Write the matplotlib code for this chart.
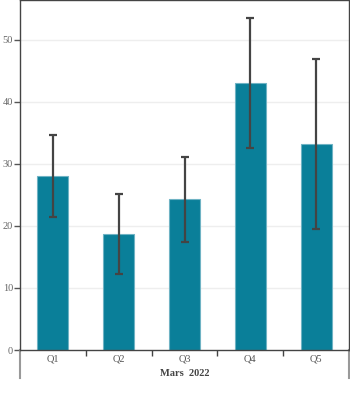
import numpy as np
import matplotlib
matplotlib.use("Agg")
import matplotlib.pyplot as plt
from matplotlib.lines import Line2D

categories = ["Q1", "Q2", "Q3", "Q4", "Q5"]
values = [28.1, 18.7, 24.3, 43.0, 33.2]
errors = [6.6, 6.4, 6.9, 10.5, 13.7]
group_label = "Mars  2022"
y_ticks = [0, 10, 20, 30, 40, 50]

plt.rcParams['font.family'] = ['Liberation Serif', 'DejaVu Serif']

fig = plt.figure(figsize=(3.5, 4.0), dpi=100)
ax = fig.add_axes([20 / 350, 50 / 400, 329 / 350, 350 / 400])

x = np.arange(len(categories))
ax.bar(x, values, width=0.47, color="#0a7f99", edgecolor="#6fb3c4", linewidth=0.8, zorder=2)
ax.errorbar(x, values, yerr=errors, fmt="none", ecolor="#444444", elinewidth=1.6,
            capsize=3, capthick=1.6, zorder=3)

ax.set_xlim(-0.5, len(categories) - 0.5)
ax.set_ylim(0, 56.45)
ax.set_yticks(y_ticks)
ax.set_yticklabels([str(t) for t in y_ticks])
for t in y_ticks[1:]:
    ax.axhline(t, color="#eeeeee", linewidth=1, zorder=0)

ax.set_xticks(x)
ax.set_xticklabels(categories)
ax.set_xticks(np.arange(len(categories) - 1) + 0.5, minor=True)
ax.tick_params(axis="x", which="major", length=0, pad=3.5, labelsize=7.5, labelcolor="#555555")
ax.tick_params(axis="x", which="minor", length=4, width=1, color="#444444", direction="out")
ax.tick_params(axis="y", length=4, width=1, color="#555555", labelsize=7.5, labelcolor="#666666", pad=1)

for s in ax.spines.values():
    s.set_color("#444444")
    s.set_linewidth(1)

# outer bracket lines of the category band
for xe in (0, 1):
    ax.add_line(Line2D([xe, xe], [0, -28 / 350], transform=ax.transAxes,
                       color="#999999", linewidth=1.5, clip_on=False))

ax.text(0.5, -23.5 / 350, group_label, transform=ax.transAxes, ha="center", va="center",
        fontsize=7.5, fontweight="bold", color="#444444")

fig.savefig("out.png", dpi=100)
